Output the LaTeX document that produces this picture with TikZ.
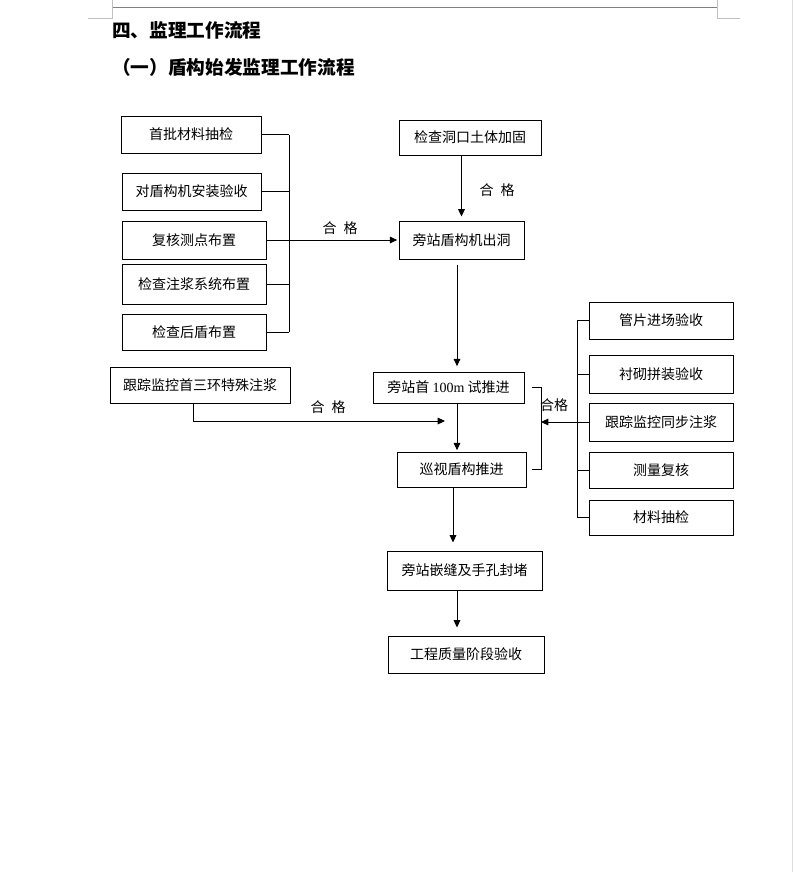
\documentclass[tikz,border=0pt]{standalone}
\usepackage{fontspec}
\setmainfont{Noto Sans CJK SC}
\newfontfamily\latin{Liberation Serif}
\usepackage{tikz}
\usetikzlibrary{calc,arrows.meta}
\definecolor{text}{HTML}{000000}
\definecolor{pagegray}{HTML}{808080}
\definecolor{markgray}{HTML}{C0C0C0}
\definecolor{edgegray}{HTML}{DDDDDD}
\tikzset{
  box/.style={draw=text, line width=0.75pt, inner sep=0pt, font=\fontsize{10.5}{12}\selectfont},
  line/.style={draw=text, line width=0.75pt},
  aline/.style={line, -{Triangle[length=5.5pt,width=5pt]}},
  lbl/.style={text=text, inner sep=0pt, font=\fontsize{10.5}{12}\selectfont},
  ttl/.style={text=text, inner sep=0pt, anchor=west, font=\fontsize{14}{16}\selectfont\bfseries},
  pageline/.style={draw=pagegray, line width=0.75pt},
  pagemark/.style={draw=markgray, line width=0.75pt}
}
\begin{document}
\begin{tikzpicture}[x=0.75pt, y=-0.75pt]
  \useasboundingbox (0,0) rectangle (793,872);
  \draw[pageline] (112,7) -- (717,7);
  \draw[pagemark] (112,0) -- (112,18) -- (88,18);
  \draw[pagemark] (717,0) -- (717,18) -- (740,18);
  \draw[draw=edgegray, line width=0.75pt] (792.5,0) -- (792.5,872);

  \node[ttl] (h1) at (112,30) {四、监理工作流程};
  \node[ttl] (h2) at (112,67) {（一）盾构始发监理工作流程};

  \node[box, minimum width=105pt, minimum height=27.75pt] (b1) at (191,134.5) {首批材料抽检};
  \node[box, minimum width=104.25pt, minimum height=27.75pt] (b2) at (191.5,191.5) {对盾构机安装验收};
  \node[box, minimum width=108pt, minimum height=28.5pt] (b3) at (194,240) {复核测点布置};
  \node[box, minimum width=108pt, minimum height=30pt] (b4) at (194,284) {检查注浆系统布置};
  \node[box, minimum width=108pt, minimum height=27pt] (b5) at (194,332) {检查后盾布置};

  \node[box, minimum width=106.5pt, minimum height=26.25pt] (t1) at (470,137.5) {检查洞口土体加固};
  \node[box, minimum width=93.75pt, minimum height=28.5pt] (t2) at (461.5,240) {旁站盾构机出洞};
  \node[box, minimum width=113.25pt, minimum height=23.25pt] (t3) at (448.5,387.5) {旁站首 {\latin 100m} 试推进};
  \node[box, minimum width=96.75pt, minimum height=26.25pt] (t4) at (461.5,469.5) {巡视盾构推进};
  \node[box, minimum width=116.25pt, minimum height=29.25pt] (t5) at (464.5,570.5) {旁站嵌缝及手孔封堵};
  \node[box, minimum width=117pt, minimum height=27.75pt] (t6) at (466,654.5) {工程质量阶段验收};

  \node[box, minimum width=135pt, minimum height=27pt] (s1) at (200,385) {跟踪监控首三环特殊注浆};

  \node[box, minimum width=108pt, minimum height=27.75pt] (r1) at (661,320.5) {管片进场验收};
  \node[box, minimum width=108pt, minimum height=28.5pt] (r2) at (661,374) {衬砌拼装验收};
  \node[box, minimum width=108pt, minimum height=28.5pt] (r3) at (661,422) {跟踪监控同步注浆};
  \node[box, minimum width=108pt, minimum height=27pt] (r4) at (661,470) {测量复核};
  \node[box, minimum width=108pt, minimum height=26.25pt] (r5) at (661,517.5) {材料抽检};

  \coordinate (jl) at (289,0);
  \coordinate (jr) at (541,0);
  \coordinate (jrr) at (577,0);
  \coordinate (ax) at (457,0);
  \coordinate (ax2) at (453,0);
  \coordinate (s1end) at (445,421);

  \foreach \b in {b1,b2,b3,b4,b5}
    \draw[line] (\b.east) -- (\b.east -| jl);
  \draw[line] (b1.east -| jl) -- (b5.east -| jl);
  \draw[aline, shorten >=1pt] (b3.east -| jl) -- (t2.west);
  \node[lbl] (q1) at (340,228) {合\hspace{0.5em}格};

  \draw[aline, shorten >=3pt] (t2.north |- t1.south) -- (t2.north);
  \node[lbl] (q2) at (497,190) {合\hspace{0.5em}格};

  \draw[aline, shorten >=4pt] ($(t2.south -| ax)+(0,5)$) -- (t3.north -| ax);
  \draw[aline, shorten >=1pt] (t3.south -| ax) -- (t4.north -| ax);

  \draw[aline] ([xshift=-5.25pt]s1.south) |- (s1end);
  \node[lbl] (q3) at (328,407) {合\hspace{0.5em}格};

  \draw[line] ([xshift=5.25pt]t3.east) -- (t3.east -| jr) -- (t4.east -| jr) -- ([xshift=3.75pt]t4.east);
  \foreach \r in {r1,r2,r3,r4,r5}
    \draw[line] (\r.west) -- (\r.west -| jrr);
  \draw[line] (r1.west -| jrr) -- (r5.west -| jrr);
  \draw[aline] (r3.west -| jrr) -- (r3.west -| jr);
  \node[lbl] (q4) at (554,405) {合格};

  \draw[aline, shorten >=6pt] (t4.south -| ax2) -- (t5.north -| ax2);
  \draw[aline, shorten >=6pt] (t5.south -| ax) -- (t6.north -| ax);
\end{tikzpicture}
\end{document}
